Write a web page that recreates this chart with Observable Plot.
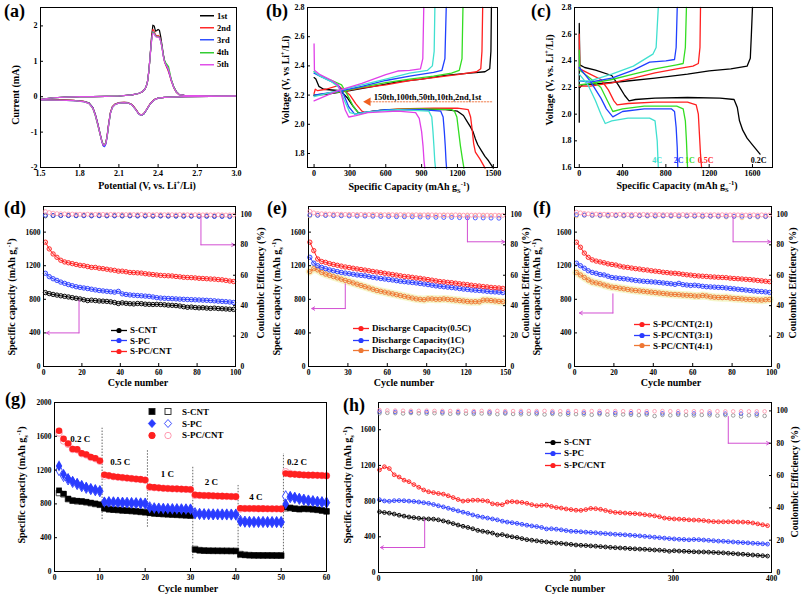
<!DOCTYPE html>
<html><head><meta charset="utf-8">
<script src="https://cdn.jsdelivr.net/npm/d3@7"></script>
<script src="https://cdn.jsdelivr.net/npm/@observablehq/plot@0.6"></script>
<style>
body{margin:0;background:#fff}
#fig{position:relative;width:801px;height:597px;overflow:hidden;background:#fff;font-family:"Liberation Serif","Times New Roman",serif;font-weight:bold;color:#000}
.pnl{position:absolute}
.pnl svg{overflow:visible}
.lab{position:absolute;white-space:nowrap;line-height:1}
.lab sub,.lab sup{font-size:0.65em;line-height:0}
.tag{position:absolute;font-size:18px;line-height:1}
.leg{position:absolute;display:flex;align-items:center;white-space:nowrap;transform:translateY(-50%);line-height:1}
.leg svg{display:block;overflow:visible}
</style></head>
<body><div id="fig"></div>
<script>
// ---------- (a) cyclic voltammetry ----------
const aCycles = ["1st","2nd","3rd","4th","5th"];
const aColors = ["#000000","#ff2a2a","#3050ff","#33cc33","#e050e8"];
const aCathV = [3.0,2.8,2.6,2.5,2.45,2.4,2.37,2.34,2.31,2.29,2.27,2.25,2.23,2.2,2.17,2.14,2.1,2.07,2.05,2.035,2.02,2.01,2.0,1.99,1.98,1.97,1.96,1.94,1.92,1.9,1.87,1.83,1.75,1.65,1.5];
const aCath1 = [0.02,0.01,0,-0.01,-0.02,-0.04,-0.08,-0.2,-0.38,-0.49,-0.53,-0.47,-0.36,-0.22,-0.17,-0.16,-0.17,-0.21,-0.28,-0.45,-0.8,-1.1,-1.3,-1.37,-1.36,-1.25,-1.1,-0.78,-0.5,-0.3,-0.17,-0.13,-0.1,-0.09,-0.08];
const aCath2 = [0.02,0.01,0,-0.01,-0.02,-0.04,-0.08,-0.19,-0.37,-0.48,-0.52,-0.47,-0.36,-0.22,-0.17,-0.16,-0.17,-0.21,-0.28,-0.45,-0.82,-1.12,-1.32,-1.39,-1.38,-1.27,-1.12,-0.8,-0.52,-0.31,-0.18,-0.13,-0.1,-0.09,-0.08];
const aCath3 = [0.02,0.01,0,-0.01,-0.02,-0.04,-0.09,-0.2,-0.38,-0.49,-0.53,-0.48,-0.37,-0.23,-0.18,-0.17,-0.18,-0.22,-0.3,-0.47,-0.84,-1.14,-1.34,-1.41,-1.39,-1.28,-1.12,-0.8,-0.52,-0.31,-0.18,-0.14,-0.11,-0.1,-0.09];
const aCath4 = [0.02,0.01,0,-0.01,-0.02,-0.04,-0.09,-0.2,-0.37,-0.48,-0.52,-0.48,-0.37,-0.23,-0.18,-0.17,-0.18,-0.22,-0.3,-0.48,-0.86,-1.13,-1.3,-1.35,-1.34,-1.26,-1.13,-0.83,-0.55,-0.33,-0.19,-0.14,-0.11,-0.1,-0.09];
const aCath5 = [0.02,0.01,0,-0.01,-0.02,-0.04,-0.09,-0.2,-0.37,-0.48,-0.52,-0.48,-0.37,-0.23,-0.18,-0.17,-0.18,-0.22,-0.3,-0.47,-0.84,-1.12,-1.31,-1.37,-1.36,-1.27,-1.12,-0.81,-0.53,-0.32,-0.19,-0.14,-0.11,-0.1,-0.09];
const aAnodV = [1.5,1.55,1.6,1.7,1.8,1.9,2.0,2.1,2.2,2.25,2.28,2.3,2.31,2.32,2.33,2.34,2.35,2.36,2.37,2.38,2.39,2.4,2.41,2.42,2.43,2.44,2.45,2.46,2.47,2.48,2.49,2.5,2.52,2.54,2.56,2.6,2.7,2.85,3.0];
const aAnod1 = [-0.08,-0.05,-0.03,-0.01,0,0,0.01,0.02,0.05,0.09,0.14,0.22,0.3,0.45,0.75,1.2,1.7,2.02,2.0,1.85,1.87,1.9,1.88,1.7,1.45,1.2,1.0,0.9,0.82,0.75,0.62,0.48,0.28,0.14,0.07,0.04,0.03,0.02,0.02];
const aAnod2 = [-0.08,-0.05,-0.03,-0.01,0,0,0.01,0.02,0.05,0.09,0.14,0.22,0.3,0.45,0.75,1.2,1.65,1.9,1.85,1.75,1.72,1.73,1.7,1.6,1.4,1.15,0.98,0.88,0.8,0.7,0.58,0.45,0.25,0.12,0.06,0.04,0.03,0.02,0.02];
const aAnod3 = [-0.08,-0.05,-0.03,-0.01,0,0,0.01,0.02,0.05,0.09,0.14,0.22,0.3,0.45,0.75,1.2,1.6,1.83,1.8,1.72,1.7,1.7,1.68,1.58,1.4,1.15,1.0,0.9,0.83,0.74,0.6,0.47,0.26,0.13,0.06,0.04,0.03,0.02,0.02];
const aAnod4 = [-0.08,-0.05,-0.03,-0.01,0,0,0.01,0.02,0.05,0.09,0.14,0.22,0.3,0.45,0.74,1.18,1.58,1.82,1.8,1.72,1.7,1.7,1.67,1.57,1.4,1.17,1.02,0.95,0.9,0.85,0.68,0.5,0.27,0.13,0.06,0.04,0.03,0.02,0.02];
const aAnod5 = [-0.08,-0.05,-0.03,-0.01,0,0,0.01,0.02,0.05,0.09,0.14,0.22,0.3,0.45,0.74,1.18,1.58,1.8,1.78,1.7,1.68,1.69,1.66,1.56,1.38,1.14,0.98,0.9,0.84,0.76,0.62,0.47,0.26,0.13,0.06,0.04,0.03,0.02,0.02];

// ---------- (b) charge/discharge at different cycles ----------
const bCycles = ["1st","2nd","10th","50th","100th","150th"];
const bColors = ["#000000","#ff2020","#33dd22","#2040ff","#40e0d0","#e040e8"];
const bDis1X = [0,15,40,80,150,220,280,330,370,400,450,550,700,900,1100,1200,1250,1280,1310,1330,1350,1370,1400,1430,1460,1500];
const bDis1V = [2.32,2.31,2.26,2.24,2.235,2.23,2.18,2.12,2.08,2.075,2.085,2.095,2.1,2.1,2.1,2.09,2.06,2.02,1.98,1.95,1.9,1.86,1.82,1.78,1.75,1.7];
const bDis2X = [0,10,30,100,200,300,350,400,430,500,700,1000,1200,1290,1310,1325,1335,1350,1390,1431];
const bDis2V = [2.21,2.24,2.23,2.24,2.265,2.2,2.14,2.09,2.08,2.09,2.105,2.11,2.11,2.1,2.05,1.95,1.87,1.81,1.76,1.7];
const bDis10X = [0,50,150,230,280,330,380,420,600,900,1150,1175,1195,1210,1225,1240,1254];
const bDis10V = [2.36,2.33,2.3,2.27,2.2,2.12,2.07,2.08,2.1,2.105,2.1,2.09,2.05,1.95,1.85,1.77,1.7];
const bDis50X = [0,50,150,200,240,290,340,400,600,900,1060,1080,1090,1098,1104,1109];
const bDis50V = [2.35,2.33,2.29,2.27,2.22,2.12,2.07,2.08,2.1,2.1,2.09,2.05,1.95,1.85,1.75,1.7];
const bDis100X = [0,50,150,210,250,300,350,450,700,960,985,995,1003,1010,1016];
const bDis100V = [2.36,2.33,2.29,2.25,2.17,2.08,2.07,2.085,2.1,2.09,2.05,1.95,1.85,1.75,1.7];
const bDis150X = [0,3,50,150,200,230,260,290,350,450,700,850,880,900,912,920,927];
const bDis150V = [2.55,2.37,2.34,2.3,2.27,2.2,2.1,2.05,2.06,2.08,2.09,2.08,2.04,1.95,1.85,1.75,1.7];
const bCh1X = [0,100,300,500,700,900,1100,1300,1430,1470,1480,1484];
const bCh1V = [2.2,2.205,2.23,2.26,2.29,2.31,2.335,2.35,2.36,2.38,2.5,2.8];
const bCh2X = [0,200,400,600,800,1000,1200,1360,1395,1405,1411];
const bCh2V = [2.2,2.22,2.25,2.27,2.3,2.32,2.34,2.36,2.38,2.5,2.8];
const bCh10X = [0,200,400,600,800,1000,1150,1215,1238,1246];
const bCh10V = [2.2,2.22,2.255,2.285,2.31,2.33,2.35,2.37,2.45,2.8];
const bCh50X = [0,200,400,600,800,1000,1070,1095,1106];
const bCh50V = [2.2,2.225,2.26,2.3,2.33,2.355,2.37,2.45,2.8];
const bCh100X = [0,200,400,600,800,950,990,1005,1011];
const bCh100V = [2.19,2.23,2.27,2.31,2.35,2.37,2.4,2.5,2.8];
const bCh150X = [0,200,400,600,700,800,890,910,918];
const bCh150V = [2.16,2.23,2.28,2.34,2.365,2.37,2.38,2.45,2.8];
const bNote = "150th,100th,50th,10th,2nd,1st";
const bNoteX = [500], bNoteY = [2.185];
const bArrowX = [470, 1495], bArrowY = [2.154, 2.154];
const bHeadX = [452], bHeadY = [2.154];

// ---------- (c) charge/discharge at different rates ----------
const cRates = ["0.2C","0.5C","1C","2C","4C"];
const cColors = ["#000000","#ff2020","#33dd22","#2040ff","#40e0d0"];
const cDis02X = [0,0,5,50,150,300,360,420,460,520,700,1000,1300,1430,1460,1480,1510,1550,1600,1670];
const cDis02V = [1.94,2.68,2.37,2.35,2.33,2.29,2.22,2.14,2.1,2.11,2.12,2.125,2.12,2.11,2.05,1.95,1.88,1.82,1.77,1.7];
const cCh02X = [0,5,30,200,400,700,1000,1200,1400,1550,1580,1590,1600];
const cCh02V = [2.2,2.2,2.22,2.23,2.245,2.27,2.3,2.325,2.34,2.36,2.42,2.6,2.8];
const cDis05X = [0,5,100,200,270,320,350,450,700,1000,1080,1100,1110,1120,1130];
const cDis05V = [2.6,2.34,2.3,2.26,2.18,2.1,2.07,2.08,2.09,2.09,2.07,2.0,1.85,1.7,1.6];
const cCh05X = [0,100,300,500,700,900,1050,1100,1115,1120];
const cCh05V = [2.21,2.21,2.235,2.27,2.31,2.34,2.36,2.38,2.5,2.8];
const cDis1X = [0,5,100,200,260,310,400,600,900,960,980,990,1000];
const cDis1V = [2.48,2.33,2.27,2.2,2.1,2.02,2.04,2.06,2.06,2.04,1.95,1.8,1.6];
const cCh1X = [0,100,300,500,700,900,960,980,990];
const cCh1V = [2.22,2.23,2.26,2.3,2.34,2.37,2.38,2.5,2.8];
const cDis2X = [0,100,200,250,310,400,600,850,880,895,905,910];
const cDis2V = [2.35,2.25,2.12,2.04,1.98,2.02,2.04,2.04,2.02,1.9,1.75,1.6];
const cCh2X = [0,100,300,500,650,800,880,895,905];
const cCh2V = [2.25,2.24,2.27,2.33,2.39,2.4,2.41,2.5,2.8];
const cDis4X = [0,80,150,200,240,300,450,650,700,720,730];
const cDis4V = [2.3,2.22,2.1,2.0,1.93,1.95,1.97,1.97,1.95,1.8,1.6];
const cCh4X = [0,100,300,500,620,680,710,720,730];
const cCh4V = [2.25,2.25,2.3,2.36,2.42,2.45,2.5,2.65,2.8];
const cLabX = [1656,1168,1022,917,720];
const cLabY = [1.655,1.655,1.655,1.655,1.655];

// ---------- (d) cycling of three cathodes ----------
const dSeries = ["S-CNT","S-PC","S-PC/CNT"];
const dCNT = [880,868,858,850,842,835,828,820,812,805,795,785,790,785,780,778,775,770,762,750,758,752,748,745,750,748,742,740,738,740,738,735,730,728,725,720,712,705,708,702,698,700,695,692,695,690,688,685,682,680];
const dPC = [1110,1070,1045,1025,1005,990,975,962,950,942,935,928,920,912,905,900,895,890,885,895,865,858,852,848,845,842,838,835,828,820,815,812,810,808,805,802,800,798,796,794,792,790,788,785,782,778,775,772,768,762];
const dPCC = [1480,1400,1340,1300,1265,1245,1235,1225,1215,1205,1200,1190,1180,1180,1170,1165,1158,1150,1145,1135,1135,1128,1120,1118,1115,1112,1105,1100,1095,1090,1085,1082,1080,1078,1072,1068,1062,1060,1058,1055,1050,1048,1045,1042,1040,1035,1032,1025,1018,1012];
const dEffPCC = [101.8,101.2,100.8,100.5,100.4,100.3,100.2,100.2,100.1,100.1,100,100.1,100,100,100.1,100,99.9,100,100,99.9,100,99.9,100,99.9,99.9,100,99.9,99.9,99.8,99.9,99.9,99.8,99.9,99.8,99.8,99.9,99.8,99.8,99.7,99.8,99.8,99.7,99.8,99.7,99.7,99.8,99.7,99.6,99.7,99.6];
const dEffPC = [99.5,99.3,99.2,99.2,99.1,99.1,99,99.1,99,99,98.9,99,98.9,98.9,98.8,98.9,98.8,98.8,98.7,98.8,98.7,98.7,98.6,98.6,98.5];
const dEffCNT = [99,99.2,99.3,99.3,99.2,99.3,99.2,99.2,99.1,99.2,99.1,99.1,99.2,99.1,99,99.1,99,99,99.1,99,98.9,99,98.9,98.9,98.8];
const dArrLX = [18.5,18.5,1.5], dArrLY = [790,400,400];
const dArrRX = [82,82,99.5], dArrRY = [98.3,80,80];

// ---------- (e) S-PC/CNT at different rates ----------
const eSeries = ["Discharge Capacity(0.5C)","Discharge Capacity(1C)","Discharge Capacity(2C)"];
const eR = [1480,1380,1280,1250,1240,1225,1215,1205,1195,1185,1178,1170,1162,1155,1148,1140,1132,1125,1118,1110,1102,1095,1088,1080,1072,1068,1062,1055,1050,1042,1035,1028,1020,1012,1008,1002,998,992,985,980,975,968,962,958,952,948,942,938,935,930];
const eB = [1300,1230,1200,1180,1165,1150,1140,1130,1120,1112,1105,1098,1090,1085,1080,1070,1062,1055,1048,1042,1035,1030,1022,1015,1010,1005,1000,995,988,982,975,968,960,955,950,945,940,935,928,922,918,912,908,905,900,895,890,888,885,880];
const eO = [1130,1165,1150,1120,1100,1085,1070,1055,1040,1025,1010,995,980,965,950,935,920,905,895,885,875,865,855,845,835,825,815,805,800,795,805,805,800,800,805,800,795,790,785,780,775,770,772,770,790,790,785,780,775,772];
const eEffR = [102,101,100.6,100.4,100.3,100.2,100.2,100.1,100.1,100,100,100,99.9,100,99.9,99.9,100,99.9,99.9,99.8,99.9,99.8,99.8,99.9,99.8,99.8,99.7,99.8,99.7,99.7,99.8,99.7,99.7,99.6,99.7,99.6,99.6,99.7,99.6,99.5,99.6,99.5,99.5,99.6,99.5,99.5,99.4,99.5,99.4,99.4];
const eEffB = [99.6,99.4,99.3,99.2,99.1,99,98.9,98.9,98.8,98.7,98.6,98.5,98.5,98.4,98.3,98.2,98.1,98,98,97.9,97.8,97.7,97.7,97.6,97.5];
const eEffO = [99,99.5,99.6,99.6,99.5,99.6,99.5,99.5,99.4,99.5,99.4,99.4,99.3,99.4,99.3,99.3,99.2,99.3,99.2,99.2,99.1,99.2,99.1,99.1,99];
const eArrLX = [28,28,2.5], eArrLY = [985,690,690];
const eArrRX = [121,121,149.3], eArrRY = [98.5,82,82];

// ---------- (f) different PC:CNT ratios ----------
const fSeries = ["S-PC/CNT(2:1)","S-PC/CNT(3:1)","S-PC/CNT(4:1)"];
const fR = [1480,1420,1350,1300,1270,1255,1245,1235,1222,1215,1208,1195,1185,1180,1172,1165,1160,1152,1148,1140,1135,1130,1122,1118,1112,1110,1105,1098,1092,1088,1082,1078,1075,1072,1068,1065,1062,1060,1058,1052,1048,1045,1042,1038,1035,1030,1025,1020,1015,1010];
const fB = [1230,1200,1170,1140,1120,1110,1095,1090,1075,1060,1055,1050,1045,1040,1032,1025,1020,1015,1012,1008,1005,1000,995,990,985,978,990,975,970,965,968,962,955,950,948,945,942,940,935,930,925,920,915,910,905,900,895,892,888,882];
const fO = [1120,1090,1060,1030,1005,995,985,970,958,945,940,932,925,918,910,905,900,895,890,885,880,875,870,865,860,858,855,850,848,845,840,838,845,840,830,825,822,820,822,815,810,808,805,800,798,795,792,790,795,798];
const fEffR = [101.5,101,100.6,100.4,100.3,100.2,100.2,100.1,100.1,100,100,100.1,100,99.9,100,100,99.9,100,99.9,99.9,100,99.9,99.9,99.8,99.9,99.9,99.8,99.9,99.8,99.8,99.9,99.8,99.8,99.7,99.8,99.8,99.7,99.8,99.7,99.7,99.8,99.7,99.7,99.6,99.7,99.7,99.6,99.7,99.6,99.6];
const fEffB = [99.8,99.6,99.5,99.4,99.4,99.3,99.3,99.2,99.2,99.2,99.1,99.1,99.1,99,99,99,98.9,98.9,98.9,98.8,98.8,98.8,98.7,98.7,98.7];
const fEffO = [99,99.4,99.2,99,98.8,99.1,98.9,98.7,99,98.8,98.6,98.9,98.7,98.5,98.8,98.6,98.4,98.7,98.5,98.3,98.6,97.8,98.4,98.2,98.5];
const fArrLX = [19.5,19.5,2.5], fArrLY = [865,637,637];
const fArrRX = [80.5,80.5,99.5], fArrRY = [98.3,82,82];

// ---------- (g) rate capability ----------
const gSeries = ["S-CNT","S-PC","S-PC/CNT"];
const gCNTd = [960,920,860,840,835,830,822,812,802,792,745,735,730,728,722,720,716,712,706,700,692,686,682,680,676,674,671,668,665,662,258,250,246,245,245,244,244,243,243,242,200,195,192,191,190,190,190,189,189,189,760,752,742,738,742,740,736,730,722,712];
const gCNTc = [930,915,858,838,832,828,820,810,800,790,750,738,732,728,724,720,716,712,706,702,695,688,684,680,678,674,671,668,665,662,265,252,248,246,245,245,244,244,243,243,205,197,193,191,191,190,190,190,189,189,750,752,744,738,742,740,736,730,722,712];
const gPCd = [1250,1150,1100,1065,1040,1015,995,978,965,955,822,822,820,818,815,812,810,808,806,804,752,748,745,742,740,738,737,736,735,734,682,680,678,677,676,676,675,675,674,674,592,588,587,586,586,586,585,585,585,585,800,885,875,862,850,840,832,825,820,815];
const gPCc = [1200,1130,1090,1060,1035,1010,990,975,962,950,815,820,818,816,814,812,810,808,806,804,760,748,745,742,740,738,737,736,735,734,690,682,678,677,676,676,675,675,674,674,600,590,587,586,586,586,585,585,585,585,890,880,872,860,850,840,832,825,820,815];
const gPCCd = [1665,1570,1515,1450,1445,1400,1385,1355,1340,1310,1145,1135,1125,1118,1112,1106,1100,1095,1090,1082,1002,995,990,986,983,980,978,975,973,970,908,903,900,898,896,894,892,890,888,886,748,746,745,745,744,744,743,742,742,741,1160,1152,1150,1146,1142,1140,1140,1138,1136,1132];
const gPCCc = [1640,1545,1505,1445,1440,1395,1380,1350,1335,1305,1130,1132,1123,1116,1110,1105,1099,1094,1089,1081,995,993,989,985,982,979,977,974,972,969,900,901,899,897,895,893,891,889,887,885,740,745,744,744,743,743,742,741,741,740,1180,1160,1152,1147,1143,1140,1140,1138,1136,1132];
const gSepX = [10.5,20.5,30.5,40.5,50.5];
const gSepY1 = [615,524,150,150,150];
const gSepY2 = [1696,1432,1234,1018,1396];
const gRateText = ["0.2 C","0.5 C","1 C","2 C","4 C","0.2 C"];
const gRateX = [5.7,14.5,24.9,34.6,44.4,53.5];
const gRateY = [1570,1300,1150,1060,880,1300];

// ---------- (h) long cycling ----------
const hSeries = ["S-CNT","S-PC","S-PC/CNT"];
const hCNT = [680,672,665,655,642,632,622,615,608,602,600,598,590,578,565,548,532,518,505,490,472,462,452,442,420,425,410,400,392,380,368,362,355,348,342,336,330,326,320,315,308,305,302,298,295,290,286,282,278,275,272,268,265,262,260,256,252,250,246,238,244,240,238,235,232,230,230,228,225,222,220,216,212,208,205,200,196,192,188,184];
const hPC = [815,802,798,805,806,804,800,796,790,782,775,762,748,735,720,705,690,676,662,645,630,620,610,600,590,575,565,558,550,540,530,522,515,505,488,490,485,478,470,462,460,456,452,448,445,440,436,432,428,425,422,418,414,410,405,400,395,390,385,380,376,372,370,366,370,368,364,360,356,352,350,346,342,338,335,332,328,325,322,318];
const hPCC = [1150,1185,1165,1095,1070,1035,1018,985,955,925,905,895,885,878,860,840,818,800,805,810,810,806,800,770,765,760,790,795,790,785,775,760,748,752,755,740,728,722,712,705,698,696,705,718,715,708,695,682,673,670,666,662,660,655,648,642,635,625,610,605,600,598,595,590,588,586,582,575,570,568,568,568,568,566,565,562,555,545,535,525];
const hEffPCC = [100.5,100.3,100.2,100.1,100.1,100,100.1,100,100,99.9,100,100,99.9,100,99.9,100,99.9,99.9,100,99.9,99.9,100,99.9,99.8,99.9,99.9,99.8,99.9,99.9,99.8,99.9,99.8,99.8,99.9,99.8,99.8,99.9,99.8,99.8,99.7,99.8,99.8,99.7,99.8,99.7,99.7,99.8,99.7,99.7,99.7];
const hEffCNT = [98.5,98.8,98.6,98.4,98.7,98.5,98.3,98.6,98.4,98.2,98.5,98.3,98.1,98.4,98.2,98,98.3,98.1,97.9,98.2,98,97.8,98.1,97.9,97.7,98,97.8,97.6,97.9,97.7,97.5,97.8,97.6,97.4,97.7,96.8,97.5,97.3,97.6,97.4,97.2,97.5,97.3,97.1,97.4,97.2,96.5,97.3,97.1,96.9];
const hEffPC = [99.5,99.4,99.3,99.3,99.2,99.2,99.1,99.1,99,99,98.9,98.9,98.8,98.8,98.7,98.7,98.6,98.6,98.5,98.5,98.4,98.4,98.3,98.3,98.2];
const hArrLX = [47,47,2], hArrLY = [598,280,280];
const hArrRX = [356,356,398], hArrRY = [96.5,80,80];

// ---------- helpers ----------
const fig = document.getElementById("fig");
const FONT = "'Liberation Serif','Times New Roman',serif";
const ST = {background:"transparent", fontFamily:FONT, fontWeight:"bold", fontSize:"7.5px", overflow:"visible", color:"black"};
const RED = "#ff2020", BLUE = "#2a3cff", ORANGE = "#ee7733", PINK = "#ff8fa8", MAG = "#d24fd2";
const xy = (xs, ys) => xs.map((x, i) => ({x, y: ys[i]}));
const str = d => String(d);
const f1 = d3.format(".1f");

function mount(plot, left, top, w, h) {
  const d = document.createElement("div");
  d.className = "pnl";
  Object.assign(d.style, {left: left + "px", top: top + "px", width: w + "px", height: h + "px"});
  d.appendChild(plot); fig.appendChild(d);
}
function lab(html, cx, cy, rot, fs) {
  const d = document.createElement("div");
  d.className = "lab"; d.innerHTML = html;
  d.style.left = cx + "px"; d.style.top = cy + "px"; d.style.fontSize = (fs || 10) + "px";
  d.style.transform = "translate(-50%,-50%)" + (rot ? " rotate(-90deg)" : "");
  fig.appendChild(d);
}
function tag(t, x, y) {
  const d = document.createElement("div"); d.className = "tag"; d.textContent = t;
  d.style.left = x + "px"; d.style.top = y + "px"; fig.appendChild(d);
}
function leg(x, y, w, inner, text, fs) {
  const d = document.createElement("div"); d.className = "leg";
  d.style.left = x + "px"; d.style.top = y + "px"; d.style.fontSize = (fs || 9) + "px";
  d.innerHTML = `<svg width="${w}" height="8" viewBox="0 0 ${w} 8">${inner}</svg><span style="margin-left:3px">${text}</span>`;
  fig.appendChild(d);
}
function frameAxes(xTicks, yTicks, xFmt, yFmt, fs) {
  return [
    Plot.axisX({ticks: xTicks, tickSize: -3, tickPadding: 6, tickFormat: xFmt, label: null, fontSize: fs || 7.5}),
    Plot.axisY({ticks: yTicks, tickSize: -3, tickPadding: 6, tickFormat: yFmt, label: null, fontSize: fs || 7.5}),
    Plot.frame({stroke: "black", strokeWidth: 1})
  ];
}
function rightAxis() {
  return Plot.axisY({anchor: "right", ticks: [0,20,40,60,80,100], tickSize: -3, tickPadding: 8, tickFormat: str, label: null, fontSize: 7.5});
}
function capSeries(xs, ys, color, r, halo) {
  const data = xy(xs, ys);
  const m = [];
  if (halo) m.push(Plot.line(data, {x: "x", y: "y", stroke: halo, strokeWidth: 8, strokeOpacity: 0.6}));
  m.push(Plot.line(data, {x: "x", y: "y", stroke: color, strokeWidth: 1}));
  m.push(Plot.dot(data, {x: "x", y: "y", r: r || 2.2, stroke: color, strokeWidth: 0.9, fill: color, fillOpacity: 0.18}));
  return m;
}
function effSeries(xs, ys, color, r) {
  return Plot.dot(xy(xs, ys), {x: "x", y: "y", r: r || 2, stroke: color, strokeWidth: 0.8, fill: "none"});
}
function elbow(X, Y) {
  const p = xy(X, Y);
  return [
    Plot.line(p.slice(0, 2), {x: "x", y: "y", stroke: MAG, strokeWidth: 1}),
    Plot.arrow([p], {x1: d => d[1].x, y1: d => d[1].y, x2: d => d[2].x, y2: d => d[2].y, stroke: MAG, strokeWidth: 1, headLength: 5})
  ];
}

// ---------- (a) ----------
{
  const cath = [aCath1, aCath2, aCath3, aCath4, aCath5];
  const anod = [aAnod1, aAnod2, aAnod3, aAnod4, aAnod5];
  const marks = [];
  aCycles.forEach((c, i) => {
    marks.push(Plot.line(xy(aCathV, cath[i]), {x: "x", y: "y", stroke: aColors[i], strokeWidth: 1.2}));
    marks.push(Plot.line(xy(aAnodV, anod[i]), {x: "x", y: "y", stroke: aColors[i], strokeWidth: 1.2}));
  });
  mount(Plot.plot({width: 265, height: 195, marginLeft: 40, marginRight: 29, marginTop: 7, marginBottom: 28,
    x: {domain: [1.5, 3.0]}, y: {domain: [-2, 2.52]}, style: ST,
    marks: [...marks, ...frameAxes([1.5,1.8,2.1,2.4,2.7,3.0], [-2,-1,0,1,2], f1, str, 8)]}), 0, 0, 265, 195);
  aCycles.forEach((c, i) => leg(200, [15.7,27.7,40,52.3,64.3][i], 14,
    `<line x1="0" y1="4" x2="14" y2="4" stroke="${aColors[i]}" stroke-width="1.5"/>`, c, 8.5));
  tag("(a)", 4, 2);
  lab("Current (mA)", 16, 95, true, 10);
  lab("Potential (V, vs. Li<sup>+</sup>/Li)", 147, 186, false, 10);
}

// ---------- (b) ----------
{
  const dis = [[bDis1X,bDis1V],[bDis2X,bDis2V],[bDis10X,bDis10V],[bDis50X,bDis50V],[bDis100X,bDis100V],[bDis150X,bDis150V]];
  const ch = [[bCh1X,bCh1V],[bCh2X,bCh2V],[bCh10X,bCh10V],[bCh50X,bCh50V],[bCh100X,bCh100V],[bCh150X,bCh150V]];
  const marks = [];
  bCycles.forEach((c, i) => {
    marks.push(Plot.line(xy(...dis[i]), {x: "x", y: "y", stroke: bColors[i], strokeWidth: 1.3}));
    marks.push(Plot.line(xy(...ch[i]), {x: "x", y: "y", stroke: bColors[i], strokeWidth: 1.3}));
  });
  marks.push(Plot.line(xy(bArrowX, bArrowY), {x: "x", y: "y", stroke: "#f08050", strokeWidth: 1, strokeDasharray: "1.5,1.5"}));
  marks.push(Plot.dot(xy(bHeadX, bHeadY), {x: "x", y: "y", symbol: "triangle", rotate: -90, r: 3.2, fill: "#f06020", stroke: "none"}));
  marks.push(Plot.text(xy(bNoteX, bNoteY), {x: "x", y: "y", text: () => bNote, textAnchor: "start", fontSize: 8.5, fontWeight: "bold", fill: "black"}));
  mount(Plot.plot({width: 265, height: 195, marginLeft: 42, marginRight: 33, marginTop: 7, marginBottom: 28,
    x: {domain: [-55, 1535]}, y: {domain: [1.704, 2.8]}, style: ST,
    marks: [...marks, ...frameAxes([0,300,600,900,1200,1500], [1.8,2.0,2.2,2.4,2.6,2.8], str, f1, 8)]}), 265, 0, 265, 195);
  tag("(b)", 266, 2);
  lab("Voltage (V, vs Li<sup>+</sup>/Li)", 286, 80, true, 10);
  lab("Specific Capacity (mAh g<sub>S</sub><sup>-1</sup>)", 409, 187, false, 10);
}

// ---------- (c) ----------
{
  const dis = [[cDis02X,cDis02V],[cDis05X,cDis05V],[cDis1X,cDis1V],[cDis2X,cDis2V],[cDis4X,cDis4V]];
  const ch = [[cCh02X,cCh02V],[cCh05X,cCh05V],[cCh1X,cCh1V],[cCh2X,cCh2V],[cCh4X,cCh4V]];
  const marks = [];
  cRates.forEach((c, i) => {
    marks.push(Plot.line(xy(...dis[i]), {x: "x", y: "y", stroke: cColors[i], strokeWidth: 1.3}));
    marks.push(Plot.line(xy(...ch[i]), {x: "x", y: "y", stroke: cColors[i], strokeWidth: 1.3}));
  });
  cRates.forEach((c, i) => {
    marks.push(Plot.text([c], {x: () => cLabX[i], y: () => cLabY[i], text: d => d, fill: cColors[i], fontSize: 8, fontWeight: "bold"}));
  });
  mount(Plot.plot({width: 271, height: 195, marginLeft: 44, marginRight: 29, marginTop: 7, marginBottom: 28,
    x: {domain: [-44, 1785]}, y: {domain: [1.6, 2.8]}, style: ST,
    marks: [...marks, ...frameAxes([0,400,800,1200,1600], [1.6,1.8,2.0,2.2,2.4,2.6,2.8], str, f1, 8)]}), 530, 0, 271, 195);
  tag("(c)", 531, 2);
  lab("Voltage (V, vs. Li<sup>+</sup>/Li)", 550, 80, true, 10);
  lab("Specific Capacity (mAh g<sub>S</sub><sup>-1</sup>)", 677, 186, false, 10);
}

const capLabel = "Specific capacity (mAh g<sub>s</sub><sup>-1</sup>)";
const ceLabel = "Coulombic Efficiency (%)";
function lineDot(c) { return `<line x1="0" y1="4" x2="16" y2="4" stroke="${c}" stroke-width="1.3"/><circle cx="8" cy="4" r="2.6" fill="${c}"/>`; }

// ---------- (d) ----------
{
  const cyc = d3.range(1, 100, 2), cyc4 = d3.range(1, 100, 4);
  const W = 265, H = 190, m = {marginLeft: 43, marginRight: 30, marginTop: 11, marginBottom: 19};
  mount(Plot.plot({width: W, height: H, ...m, x: {domain: [0, 100]}, y: {domain: [0, 1905]}, style: ST,
    marks: [...capSeries(cyc, dCNT, "#000"), ...capSeries(cyc, dPC, BLUE), ...capSeries(cyc, dPCC, RED),
      ...elbow(dArrLX, dArrLY), ...frameAxes([0,20,40,60,80,100], [0,400,800,1200,1600], str, str)]}), 0, 195, W, H);
  mount(Plot.plot({width: W, height: H, ...m, x: {domain: [0, 100], axis: null}, y: {domain: [0, 105.2]}, style: ST,
    marks: [effSeries(cyc4, dEffCNT, "#444"), effSeries(cyc4, dEffPC, BLUE), effSeries(cyc, dEffPCC, PINK),
      ...elbow(dArrRX, dArrRY), rightAxis()]}), 0, 195, W, H);
  [["#000", dSeries[0]], [BLUE, dSeries[1]], [RED, dSeries[2]]].forEach(([c, t], i) => leg(111, [330, 340.7, 351][i], 16, lineDot(c), t, 9));
  tag("(d)", 4, 199);
  lab(capLabel, 12, 297, true, 10);
  lab(ceLabel, 261, 283, true, 10);
  lab("Cycle number", 138, 383, false, 10);
}

// ---------- (e) ----------
{
  const cyc = d3.range(1, 150, 3), cyc6 = d3.range(1, 150, 6);
  const W = 265, H = 190, m = {marginLeft: 43, marginRight: 25, marginTop: 11, marginBottom: 19};
  mount(Plot.plot({width: W, height: H, ...m, x: {domain: [0, 150]}, y: {domain: [0, 1905]}, style: ST,
    marks: [...capSeries(cyc, eO, ORANGE, 2.2, "#eef0a8"), ...capSeries(cyc, eB, BLUE), ...capSeries(cyc, eR, RED),
      ...elbow(eArrLX, eArrLY), ...frameAxes([0,30,60,90,120,150], [0,400,800,1200,1600], str, str)]}), 265, 195, W, H);
  mount(Plot.plot({width: W, height: H, ...m, x: {domain: [0, 150], axis: null}, y: {domain: [0, 105.2]}, style: ST,
    marks: [effSeries(cyc6, eEffO, "#f0c080"), effSeries(cyc6, eEffB, BLUE), effSeries(cyc, eEffR, PINK),
      ...elbow(eArrRX, eArrRY), rightAxis()]}), 265, 195, W, H);
  [[RED, eSeries[0]], [BLUE, eSeries[1]], [ORANGE, eSeries[2]]].forEach(([c, t], i) => leg(353, [328.3, 340, 350.3][i], 16, lineDot(c), t, 9));
  tag("(e)", 267, 199);
  lab(capLabel, 277, 297, true, 10);
  lab(ceLabel, 526, 283, true, 10);
  lab("Cycle number", 404, 383, false, 10);
}

// ---------- (f) ----------
{
  const cyc = d3.range(1, 100, 2), cyc4 = d3.range(1, 100, 4);
  const W = 271, H = 190, m = {marginLeft: 44, marginRight: 30, marginTop: 11, marginBottom: 19};
  mount(Plot.plot({width: W, height: H, ...m, x: {domain: [0, 100]}, y: {domain: [0, 1905]}, style: ST,
    marks: [...capSeries(cyc, fO, ORANGE, 2.2, "#eef0a8"), ...capSeries(cyc, fB, BLUE), ...capSeries(cyc, fR, RED),
      ...elbow(fArrLX, fArrLY), ...frameAxes([0,20,40,60,80,100], [0,400,800,1200,1600], str, str)]}), 530, 195, W, H);
  mount(Plot.plot({width: W, height: H, ...m, x: {domain: [0, 100], axis: null}, y: {domain: [0, 105.2]}, style: ST,
    marks: [effSeries(cyc4, fEffO, "#f0c080"), effSeries(cyc4, fEffB, BLUE), effSeries(cyc, fEffR, PINK),
      ...elbow(fArrRX, fArrRY), rightAxis()]}), 530, 195, W, H);
  [[RED, fSeries[0]], [BLUE, fSeries[1]], [ORANGE, fSeries[2]]].forEach(([c, t], i) => leg(634, [324.3, 335, 345.7][i], 16, lineDot(c), t, 9));
  tag("(f)", 533, 199);
  lab(capLabel, 537, 297, true, 10);
  lab(ceLabel, 793, 283, true, 10);
  lab("Cycle number", 671, 383, false, 10);
}

// ---------- (g) ----------
{
  const cyc = d3.range(1, 61);
  const W = 365, H = 212;
  const sep = gSepX.map((x, i) => ({x, y1: gSepY1[i], y2: gSepY2[i]}));
  const rates = gRateText.map((t, i) => ({t, x: gRateX[i], y: gRateY[i]}));
  mount(Plot.plot({width: W, height: H, marginLeft: 54, marginRight: 39, marginTop: 17, marginBottom: 26,
    x: {domain: [0, 60]}, y: {domain: [0, 2000]}, style: ST,
    marks: [
      Plot.ruleX(sep, {x: "x", y1: "y1", y2: "y2", stroke: "#555", strokeWidth: 0.9, strokeDasharray: "1.5,1.5"}),
      Plot.dot(xy(cyc, gCNTc), {x: "x", y: "y", symbol: "square", r: 3.2, stroke: "#333", fill: "white", strokeWidth: 0.9}),
      Plot.dot(xy(cyc, gPCc), {x: "x", y: "y", symbol: "diamond", r: 3.4, stroke: BLUE, fill: "white", strokeWidth: 0.9}),
      Plot.dot(xy(cyc, gPCCc), {x: "x", y: "y", symbol: "circle", r: 3.3, stroke: PINK, fill: "white", strokeWidth: 0.9}),
      Plot.dot(xy(cyc, gCNTd), {x: "x", y: "y", symbol: "square", r: 3.2, fill: "black"}),
      Plot.dot(xy(cyc, gPCd), {x: "x", y: "y", symbol: "diamond", r: 3.4, fill: BLUE}),
      Plot.dot(xy(cyc, gPCCd), {x: "x", y: "y", symbol: "circle", r: 3.3, fill: RED}),
      Plot.text(rates, {x: "x", y: "y", text: "t", fontSize: 9, fontWeight: "bold", fill: "black"}),
      ...frameAxes([0,10,20,30,40,50,60], [0,400,800,1200,1600,2000], str, str)
    ]}), 0, 385, W, H);
  const sq = (c, f) => `<rect x="${c-3}" y="1" width="6" height="6" fill="${f}" stroke="#222" stroke-width="0.9"/>`;
  const di = (c, f) => `<path d="M${c},0 L${c+3.6},4 L${c},8 L${c-3.6},4Z" fill="${f}" stroke="${BLUE}" stroke-width="0.9"/>`;
  const ci = (c, f, s) => `<circle cx="${c}" cy="4" r="3.2" fill="${f}" stroke="${s}" stroke-width="0.9"/>`;
  leg(147, 411.7, 32, sq(5, "black") + sq(21, "white"), gSeries[0], 9);
  leg(147, 423.7, 32, di(5, BLUE) + di(21, "white"), gSeries[1], 9);
  leg(147, 435.3, 32, ci(5, RED, RED) + ci(21, "white", PINK), gSeries[2], 9);
  tag("(g)", 5, 390);
  lab(capLabel, 22, 485, true, 10);
  lab("Cycle number", 188, 589, false, 10);
}

// ---------- (h) ----------
{
  const cyc = d3.range(1, 400, 5), cyc8 = d3.range(1, 400, 8), cyc16 = d3.range(1, 400, 16);
  const W = 471, H = 212, m = {marginLeft: 48, marginRight: 30, marginTop: 17, marginBottom: 25};
  mount(Plot.plot({width: W, height: H, ...m, x: {domain: [0, 400]}, y: {domain: [0, 1905]}, style: ST,
    marks: [...capSeries(cyc, hCNT, "#000", 1.9), ...capSeries(cyc, hPC, BLUE, 1.9), ...capSeries(cyc, hPCC, RED, 1.9),
      ...elbow(hArrLX, hArrLY), ...frameAxes([0,100,200,300,400], [0,400,800,1200,1600], str, str)]}), 330, 385, W, H);
  mount(Plot.plot({width: W, height: H, ...m, x: {domain: [0, 400], axis: null}, y: {domain: [0, 105.2]}, style: ST,
    marks: [effSeries(cyc16, hEffPC, BLUE, 1.8), effSeries(cyc8, hEffCNT, "#888", 1.8), effSeries(cyc8, hEffPCC, PINK, 1.8),
      ...elbow(hArrRX, hArrRY), rightAxis()]}), 330, 385, W, H);
  [["#000", hSeries[0]], [BLUE, hSeries[1]], [RED, hSeries[2]]].forEach(([c, t], i) => leg(545, [442.3, 453.3, 465][i], 16, lineDot(c), t, 9));
  tag("(h)", 343, 396);
  lab(capLabel, 348, 485, true, 10);
  lab(ceLabel, 795, 482, true, 10);
  lab("Cycle number", 575, 589, false, 10);
}
</script>
</body></html>
